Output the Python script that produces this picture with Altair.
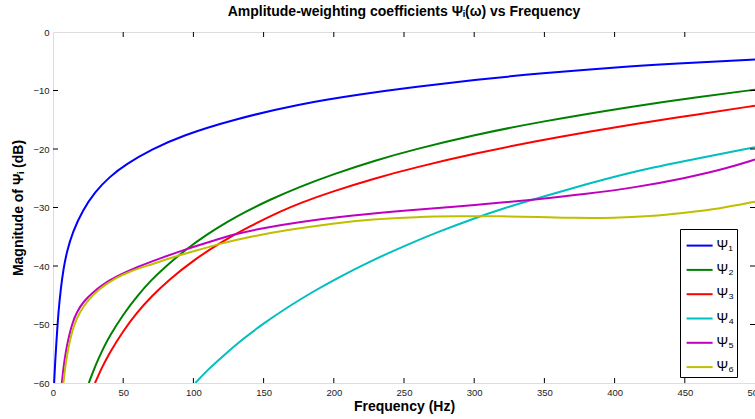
import altair as alt
import pandas as pd

# ---- data ----
series_names = ["Ψ₁", "Ψ₂", "Ψ₃", "Ψ₄", "Ψ₅", "Ψ₆"]
series_colors = ["#0000ff", "#008000", "#ff0000", "#00bfbf", "#bf00bf", "#bfbf00"]

psi1_f = [0.8, 1.5, 2.8, 4, 5.5, 7.4, 10, 14, 21, 30, 40, 52, 70, 92, 128, 175, 220, 257, 300, 345, 414, 460, 500]
psi1_db = [-60, -56.5, -51.6, -47.5, -44.0, -40.5, -37.4, -34.2, -30.5, -27.3, -24.8, -22.6, -20.1, -17.7, -15.0, -12.3, -10.6, -9.4, -8.2, -7.1, -5.8, -5.2, -4.7]

psi2_f = [25.5, 30, 35, 40, 50, 60, 70, 80, 95, 110, 125, 137.5, 154, 175, 200, 230, 257, 300, 345, 414, 460, 500]
psi2_db = [-60, -57.1, -54.45, -52.1, -48.25, -45.1, -42.4, -40.1, -37.1, -34.55, -32.33, -30.68, -28.71, -26.52, -24.26, -21.92, -20.09, -17.6, -15.42, -12.65, -11.09, -9.86]

psi3_f = [29.9, 35, 40, 50, 60, 70, 83, 100, 118.6, 140, 163.5, 175, 200, 230, 257, 300, 345, 380, 414, 460, 500]
psi3_db = [-60, -57.27, -54.95, -51.07, -47.9, -45.23, -42.26, -39.03, -36.07, -33.2, -30.5, -29.32, -27.17, -24.95, -23.21, -20.79, -18.6, -17.09, -15.75, -14.06, -12.6]

psi4_f = [101.3, 110, 120, 135, 150, 168, 185, 203.7, 225, 249.8, 275, 300.6, 320, 345.5, 380, 414, 455, 500]
psi4_db = [-60, -57.8, -55.6, -52.5, -49.8, -46.9, -44.4, -41.9, -39.3, -36.6, -34.1, -31.8, -30.2, -28.4, -26.0, -23.8, -21.8, -19.7]

psi5_f = [6.3, 7.5, 9, 11, 13.4, 17, 22, 28, 35, 45, 60.6, 75, 95, 110, 130, 150, 175, 210, 257, 300, 345, 380, 414, 450, 480, 500]
psi5_db = [-60, -57.3, -54.8, -52.4, -50.0, -47.8, -46.0, -44.6, -43.2, -41.8, -40.1, -38.8, -37.1, -36.0, -34.5, -33.5, -32.5, -31.4, -30.4, -29.6, -28.6, -27.7, -26.6, -25.0, -23.3, -21.8]

psi6_f = [7.4, 8.6, 10, 12, 15, 19, 25, 33, 45, 55, 66.6, 86.7, 100, 118.6, 140, 168, 200, 227, 260, 286, 320, 345, 370, 400, 425, 450, 475, 500]
psi6_db = [-60, -57.5, -55.2, -52.7, -50.0, -47.9, -45.8, -43.9, -42.0, -40.9, -40.0, -38.4, -37.5, -36.2, -35.0, -33.8, -32.7, -32.0, -31.6, -31.5, -31.5, -31.6, -31.8, -31.8, -31.5, -30.9, -30.2, -29.0]

x_tick_labels = [0, 50, 100, 150, 200, 250, 300, 350, 400, 450, 500]
y_tick_labels = [0, -10, -20, -30, -40, -50, -60]
x_inner_ticks = [50, 100, 150, 200, 250, 300, 350, 400, 450]
y_inner_ticks = [-10, -20, -30, -40, -50]

all_f = [psi1_f, psi2_f, psi3_f, psi4_f, psi5_f, psi6_f]
all_db = [psi1_db, psi2_db, psi3_db, psi4_db, psi5_db, psi6_db]

rows = []
for name, fs, vs in zip(series_names, all_f, all_db):
    for f, v in zip(fs, vs):
        rows.append({"series": name, "freq": f, "db": v})
df = pd.DataFrame(rows)

W, H = 702, 351
FONT = "Liberation Sans"

x_scale = alt.Scale(domain=[0, 500], nice=False, zero=False)
y_scale = alt.Scale(domain=[-60, 0], nice=False, zero=False)

x_axis = alt.Axis(values=x_tick_labels, title="Frequency (Hz)", ticks=False, domain=False,
                  grid=False, labelFlush=False, labelFontSize=9.5, labelPadding=4,
                  labelColor="#222222", labelFont=FONT, titleFont=FONT, titleFontSize=14,
                  titleFontWeight="bold", titleColor="black", titleY=23,
                  titleBaseline="middle")
y_axis = alt.Axis(values=y_tick_labels, title="Magnitude of Ψᵢ (dB)", ticks=False, domain=False,
                  grid=False, labelFontSize=9.5, labelPadding=4, labelColor="#222222",
                  labelFont=FONT, titleFont=FONT, titleFontSize=14, titleFontWeight="bold",
                  titleColor="black", titleX=-35, titleY=H / 2, titleBaseline="middle")

lines = alt.Chart(df).mark_line(strokeWidth=2, interpolate="basis", clip=True).encode(
    x=alt.X("freq:Q", scale=x_scale, axis=x_axis),
    y=alt.Y("db:Q", scale=y_scale, axis=y_axis),
    color=alt.Color("series:N", scale=alt.Scale(domain=series_names, range=series_colors),
                    sort=series_names,
                    legend=alt.Legend(title=None, orient="none", legendX=627, legendY=197,
                                      symbolType="stroke", symbolSize=676, symbolStrokeWidth=2,
                                      symbolOffset=3,
                                      labelFontSize=14, labelFont=FONT, labelColor="black",
                                      labelOffset=3, strokeColor="black", fillColor="white",
                                      padding=2.6, rowPadding=3.3)),
)

xt = pd.DataFrame({"freq": x_inner_ticks})
yt = pd.DataFrame({"db": y_inner_ticks})

bottom_ticks = alt.Chart(xt).mark_rule(color="black", strokeWidth=1).encode(
    x=alt.X("freq:Q", scale=x_scale, axis=x_axis), y=alt.value(H), y2=alt.value(H - 5))
top_ticks = alt.Chart(xt).mark_rule(color="black", strokeWidth=1).encode(
    x=alt.X("freq:Q", scale=x_scale, axis=x_axis), y=alt.value(0), y2=alt.value(5))
left_ticks = alt.Chart(yt).mark_rule(color="black", strokeWidth=1).encode(
    y=alt.Y("db:Q", scale=y_scale, axis=y_axis), x=alt.value(0), x2=alt.value(5))
right_ticks = alt.Chart(yt).mark_rule(color="black", strokeWidth=1).encode(
    y=alt.Y("db:Q", scale=y_scale, axis=y_axis), x=alt.value(W - 5), x2=alt.value(W))

chart = alt.layer(lines, bottom_ticks, top_ticks, left_ticks, right_ticks).properties(
    width=W, height=H,
    title=alt.TitleParams("Amplitude‑weighting coefficients Ψᵢ(ω) vs Frequency", font=FONT,
                          fontSize=14, fontWeight="bold", color="black", offset=8),
    autosize=alt.AutoSizeParams(type="none"),
    padding={"left": 53, "top": 32, "right": 0, "bottom": 36},
).configure_view(stroke="black", strokeWidth=1.2).configure(background="white")

chart.save("out.html", embed_options={"renderer": "svg", "actions": False})
